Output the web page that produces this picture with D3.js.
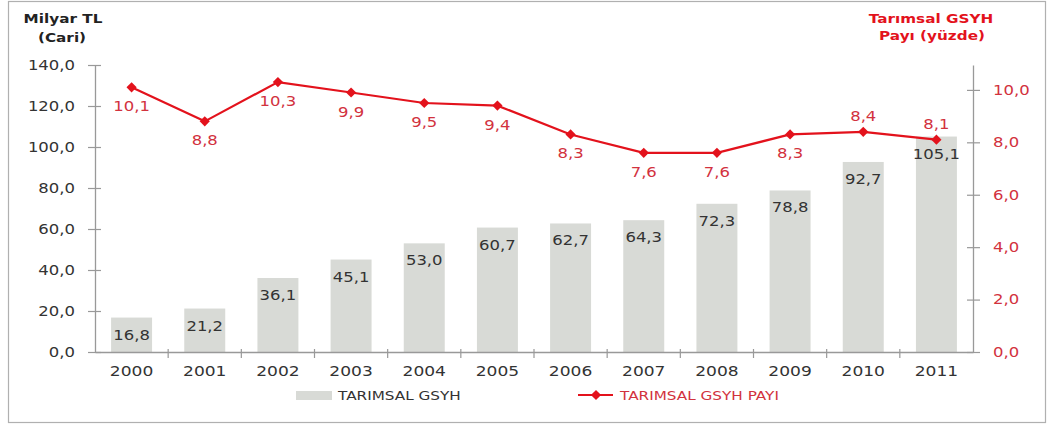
<!DOCTYPE html>
<html><head><meta charset="utf-8">
<script src="https://cdn.jsdelivr.net/npm/d3@7"></script>
<style>
html,body{margin:0;padding:0;background:#fff;}
svg{display:block;font-family:"DejaVu Sans",Verdana,sans-serif;}
</style></head>
<body><svg id="c" width="1048" height="427"></svg>
<script>
const years = ["2000","2001","2002","2003","2004","2005","2006","2007","2008","2009","2010","2011"];
const gsyh = [16.8,21.2,36.1,45.1,53.0,60.7,62.7,64.3,72.3,78.8,92.7,105.1];
const share = [10.1,8.8,10.3,9.9,9.5,9.4,8.3,7.6,7.6,8.3,8.4,8.1];
const shareLabelAbove = [false,false,false,false,false,false,false,false,false,false,true,true];
const leftTicks = [0,20,40,60,80,100,120,140];
const rightTicks = [0,2,4,6,8,10];
const leftTitle = ["Milyar TL","(Cari)"];
const rightTitle = ["Tarımsal GSYH","Payı (yüzde)"];
const legendLabels = ["TARIMSAL GSYH","TARIMSAL GSYH PAYI"];

const SX = 1.22;
const fmt = v => d3.format(".1f")(v).replace(".", ",");
const svg = d3.select("#c");
const L = 95, R = 973, T = 65, B = 352;
const barColor = "#d8dad6", lineColor = "#e3121c", redText = "#d2323e", darkText = "#333", axisColor = "#999";

// frame
svg.append("rect").attr("x",8.5).attr("y",1.5).attr("width",1037).attr("height",421)
  .attr("fill","none").attr("stroke","#b0b0b0").attr("stroke-width",1.2);

const x = d3.scaleBand().domain(years).range([L,R]).paddingInner(0.44).paddingOuter(0.22);
const yL = d3.scaleLinear().domain([0,140]).range([B,T]);
const yR = d3.scaleLinear().domain([0,10.95]).range([B,T]);

function txt(g, px, py, s, size, color, anchor, weight){
  return g.append("text")
    .attr("transform", `translate(${px},${py}) scale(${SX},1)`)
    .attr("text-anchor", anchor || "middle")
    .attr("font-size", size).attr("fill", color)
    .attr("font-weight", weight || "normal")
    .text(s);
}

// bars
svg.append("g").selectAll("rect").data(gsyh).join("rect")
  .attr("x",(d,i)=>x(years[i])).attr("width",x.bandwidth())
  .attr("y",d=>yL(d)).attr("height",d=>B-yL(d)).attr("fill",barColor);

// left axis
const gl = svg.append("g").attr("transform",`translate(${L},0)`)
  .call(d3.axisLeft(yL).tickValues(leftTicks).tickFormat(fmt).tickSizeOuter(0));
gl.select(".domain").attr("stroke",axisColor).attr("stroke-width",1.3);
gl.selectAll(".tick line").attr("x1",6).attr("x2",-7).attr("stroke",axisColor).attr("stroke-width",1.2);
gl.selectAll(".tick text").attr("x",-20/SX).attr("transform",`scale(${SX},1)`)
  .attr("font-size",13.5).attr("fill",darkText).attr("font-family","DejaVu Sans");

// right axis
const gr = svg.append("g").attr("transform",`translate(${R},0)`)
  .call(d3.axisRight(yR).tickValues(rightTicks).tickFormat(fmt).tickSizeOuter(0));
gr.select(".domain").attr("stroke",axisColor).attr("stroke-width",1.3);
gr.selectAll(".tick line").attr("x1",-6).attr("x2",7).attr("stroke",axisColor).attr("stroke-width",1.2);
gr.selectAll(".tick text").attr("x",20/SX).attr("transform",`scale(${SX},1)`)
  .attr("font-size",13.5).attr("fill",redText).attr("font-family","DejaVu Sans");

// bottom axis
const gb = svg.append("g").attr("transform",`translate(0,${B})`)
  .call(d3.axisBottom(x).tickSizeOuter(0));
gb.select(".domain").attr("stroke",axisColor).attr("stroke-width",1.3);
gb.selectAll(".tick line").attr("x1",-x.step()/2).attr("x2",-x.step()/2)
  .attr("y1",-3).attr("y2",6).attr("stroke",axisColor).attr("stroke-width",1.2);
gb.selectAll(".tick line").filter((d,i)=>i===0).remove();
gb.selectAll(".tick text").attr("y",0).attr("dy",0).attr("transform",`translate(0,24) scale(${SX},1)`)
  .attr("font-size",14).attr("fill",darkText).attr("font-family","DejaVu Sans");

// bar labels
const gbl = svg.append("g");
gsyh.forEach((v,i)=>{
  txt(gbl, x(years[i])+x.bandwidth()/2, yL(v)+22, fmt(v), 13.5, darkText);
});

// line
const cx = i => x(years[i]) + x.bandwidth()/2;
const line = d3.line().x((d,i)=>cx(i)).y(d=>yR(d));
svg.append("path").datum(share).attr("d",line).attr("fill","none")
  .attr("stroke",lineColor).attr("stroke-width",2.2);
const diamond = d3.symbol(d3.symbolSquare, 52);
svg.append("g").selectAll("path").data(share).join("path")
  .attr("d",diamond).attr("fill",lineColor)
  .attr("transform",(d,i)=>`translate(${cx(i)},${yR(d)}) rotate(45)`);

const gsl = svg.append("g");
share.forEach((v,i)=>{
  const py = shareLabelAbove[i] ? yR(v)-11 : yR(v)+24;
  txt(gsl, cx(i), py, fmt(v), 13.5, redText);
});

// titles
const gt = svg.append("g");
txt(gt, 63, 23, leftTitle[0], 12.5, "#222", "middle", "bold");
txt(gt, 62, 42, leftTitle[1], 12.5, "#222", "middle", "bold");
txt(gt, 931, 23, rightTitle[0], 12.5, lineColor, "middle", "bold");
txt(gt, 932, 40, rightTitle[1], 12.5, lineColor, "middle", "bold");

// legend
const lg = svg.append("g");
lg.append("rect").attr("x",296).attr("y",391).attr("width",36).attr("height",9).attr("fill",barColor);
txt(lg, 338, 400, legendLabels[0], 12.5, darkText, "start");
lg.append("line").attr("x1",578).attr("x2",613).attr("y1",395).attr("y2",395)
  .attr("stroke",lineColor).attr("stroke-width",2.2);
lg.append("path").attr("d",diamond).attr("fill",lineColor).attr("transform","translate(596,395) rotate(45)");
txt(lg, 620, 400, legendLabels[1], 12.5, redText, "start");
</script></body></html>
